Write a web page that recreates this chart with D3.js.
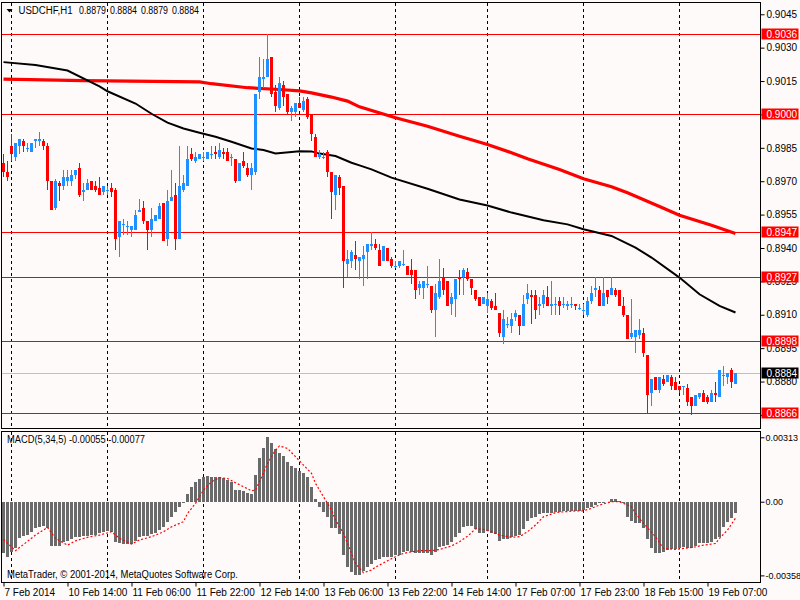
<!DOCTYPE html>
<html><head><meta charset="utf-8">
<script src="https://cdn.jsdelivr.net/npm/d3@7"></script>
<style>
html,body{margin:0;padding:0;background:#fffafa;}
svg{display:block;font-family:"Liberation Sans",Arial,sans-serif;font-size:10px;}
</style></head><body>
<svg id="c" width="800" height="600"></svg>
<script>
// ---------- DATA ----------
const symbolTitle = "USDCHF,H1";
const lastOHLC = ["0.8879","0.8884","0.8879","0.8884"];
const opens = [
0.8978,0.8974,0.8986,0.8981,0.8986,0.8988,0.8985,0.8983,0.8988,0.8988,
0.8988,0.8986,0.8970,0.8958,0.8969,0.8968,0.8970,0.8970,0.8973,0.8976,
0.8965,0.8966,0.8970,0.8968,0.8967,0.8965,0.8966,0.8967,0.8966,0.8945,
0.8951,0.8950,0.8948,0.8948,0.8956,0.8958,0.8952,0.8948,0.8952,0.8953,
0.8960,0.8944,0.8961,0.8964,0.8944,0.8966,0.8968,0.8982,0.8979,0.8980,
0.8981,0.8980,0.8982,0.8983,0.8981,0.8983,0.8983,0.8981,0.8980,0.8970,
0.8979,0.8976,0.8973,0.8974,0.9010,0.9016,0.9017,0.9026,0.9010,0.9003,
0.9013,0.9009,0.9001,0.9001,0.9005,0.9002,0.9007,0.9000,0.8990,0.8981,
0.8981,0.8983,0.8974,0.8964,0.8972,0.8968,0.8933,0.8934,0.8937,0.8934,
0.8935,0.8938,0.8941,0.8942,0.8939,0.8934,0.8940,0.8935,0.8932,0.8932,
0.8933,0.8932,0.8930,0.8930,0.8922,0.8922,0.8924,0.8923,0.8912,0.8918,
0.8927,0.8925,0.8915,0.8917,0.8927,0.8927,0.8929,0.8926,0.8921,0.8918,
0.8915,0.8914,0.8916,0.8914,0.8911,0.8900,0.8906,0.8905,0.8909,0.8910,
0.8905,0.8917,0.8919,0.8919,0.8914,0.8915,0.8918,0.8914,0.8915,0.8916,
0.8915,0.8914,0.8915,0.8915,0.8913,0.8912,0.8910,0.8916,0.8921,0.8921,
0.8914,0.8921,0.8919,0.8921,0.8921,0.8914,0.8910,0.8900,0.8900,0.8901,
0.8902,0.8892,0.8875,0.8882,0.8876,0.8881,0.8880,0.8882,0.8880,0.8878,
0.8878,0.8877,0.8873,0.8869,0.8873,0.8875,0.8873,0.8871,0.8875,0.8873,
0.8883,0.8882,0.8885,0.8879];
const highs = [
0.8982,0.8979,0.8991,0.8987,0.8989,0.8989,0.8987,0.8987,0.8989,0.8992,
0.8989,0.8987,0.8970,0.8971,0.8970,0.8975,0.8975,0.8975,0.8975,0.8978,
0.8969,0.8971,0.8970,0.8970,0.8972,0.8968,0.8968,0.8969,0.8967,0.8952,
0.8953,0.8952,0.8950,0.8957,0.8962,0.8961,0.8952,0.8958,0.8955,0.8960,
0.8960,0.8966,0.8975,0.8969,0.8986,0.8973,0.8986,0.8985,0.8983,0.8982,
0.8983,0.8983,0.8986,0.8986,0.8987,0.8985,0.8985,0.8982,0.8980,0.8978,
0.8983,0.8978,0.8978,0.9009,0.9026,0.9025,0.9036,0.9026,0.9013,0.9017,
0.9015,0.9009,0.9004,0.9005,0.9008,0.9008,0.9008,0.9000,0.8991,0.8984,
0.8983,0.8984,0.8974,0.8973,0.8973,0.8968,0.8939,0.8939,0.8943,0.8936,
0.8941,0.8942,0.8947,0.8944,0.8942,0.8941,0.8940,0.8936,0.8934,0.8934,
0.8939,0.8932,0.8935,0.8930,0.8925,0.8925,0.8932,0.8923,0.8924,0.8935,
0.8931,0.8925,0.8920,0.8926,0.8930,0.8931,0.8931,0.8926,0.8921,0.8918,
0.8918,0.8920,0.8917,0.8920,0.8911,0.8912,0.8909,0.8911,0.8912,0.8910,
0.8919,0.8924,0.8921,0.8921,0.8918,0.8921,0.8923,0.8925,0.8918,0.8918,
0.8918,0.8916,0.8918,0.8915,0.8915,0.8915,0.8918,0.8923,0.8927,0.8923,
0.8927,0.8921,0.8927,0.8922,0.8921,0.8918,0.8910,0.8917,0.8903,0.8908,
0.8904,0.8892,0.8881,0.8882,0.8882,0.8883,0.8883,0.8883,0.8882,0.8878,
0.8878,0.8879,0.8873,0.8874,0.8875,0.8876,0.8874,0.8876,0.8880,0.8885,
0.8887,0.8884,0.8886,0.8884];
const lows = [
0.8972,0.8970,0.8979,0.8979,0.8982,0.8983,0.8983,0.8983,0.8985,0.8986,
0.8984,0.8966,0.8957,0.8957,0.8961,0.8966,0.8968,0.8968,0.8971,0.8963,
0.8961,0.8966,0.8966,0.8965,0.8964,0.8964,0.8964,0.8963,0.8939,0.8936,
0.8946,0.8946,0.8945,0.8948,0.8956,0.8951,0.8939,0.8945,0.8952,0.8953,
0.8943,0.8941,0.8961,0.8939,0.8944,0.8965,0.8968,0.8979,0.8978,0.8980,
0.8979,0.8980,0.8980,0.8980,0.8980,0.8980,0.8979,0.8977,0.8969,0.8970,
0.8976,0.8972,0.8966,0.8973,0.9007,0.9012,0.9017,0.9008,0.9001,0.9002,
0.9004,0.9000,0.8997,0.8999,0.9003,0.9001,0.8998,0.8988,0.8981,0.8980,
0.8980,0.8972,0.8953,0.8957,0.8964,0.8922,0.8927,0.8931,0.8930,0.8926,
0.8923,0.8926,0.8939,0.8939,0.8932,0.8934,0.8934,0.8931,0.8931,0.8931,
0.8932,0.8928,0.8924,0.8917,0.8919,0.8917,0.8922,0.8911,0.8900,0.8917,
0.8919,0.8914,0.8910,0.8909,0.8919,0.8919,0.8925,0.8919,0.8916,0.8914,
0.8915,0.8911,0.8912,0.8912,0.8900,0.8897,0.8904,0.8902,0.8907,0.8901,
0.8905,0.8915,0.8906,0.8908,0.8910,0.8913,0.8914,0.8910,0.8910,0.8910,
0.8913,0.8912,0.8913,0.8912,0.8912,0.8910,0.8909,0.8915,0.8918,0.8914,
0.8914,0.8915,0.8919,0.8918,0.8914,0.8909,0.8899,0.8899,0.8893,0.8899,
0.8891,0.8866,0.8869,0.8876,0.8875,0.8878,0.8880,0.8876,0.8876,0.8875,
0.8874,0.8869,0.8865,0.8869,0.8872,0.8871,0.8870,0.8871,0.8871,0.8873,
0.8878,0.8879,0.8877,0.8879];
const closes = [
0.8974,0.8972,0.8982,0.8987,0.8989,0.8986,0.8985,0.8987,0.8989,0.8989,
0.8986,0.8970,0.8957,0.8970,0.8968,0.8972,0.8972,0.8973,0.8975,0.8964,
0.8966,0.8969,0.8966,0.8966,0.8964,0.8968,0.8966,0.8965,0.8944,0.8952,
0.8951,0.8950,0.8950,0.8955,0.8957,0.8952,0.8948,0.8953,0.8955,0.8959,
0.8943,0.8961,0.8963,0.8944,0.8968,0.8969,0.8980,0.8980,0.8981,0.8982,
0.8981,0.8983,0.8982,0.8982,0.8984,0.8982,0.8979,0.8981,0.8970,0.8978,
0.8977,0.8973,0.8976,0.9009,0.9017,0.9017,0.9025,0.9009,0.9004,0.9014,
0.9008,0.9001,0.9003,0.9005,0.9003,0.9006,0.8999,0.8991,0.8981,0.8982,
0.8981,0.8974,0.8965,0.8973,0.8967,0.8934,0.8935,0.8938,0.8935,0.8936,
0.8937,0.8942,0.8942,0.8940,0.8932,0.8941,0.8934,0.8932,0.8932,0.8934,
0.8933,0.8928,0.8928,0.8921,0.8924,0.8925,0.8924,0.8912,0.8920,0.8925,
0.8921,0.8914,0.8918,0.8926,0.8926,0.8930,0.8926,0.8922,0.8917,0.8914,
0.8918,0.8917,0.8913,0.8912,0.8902,0.8908,0.8906,0.8908,0.8911,0.8905,
0.8915,0.8920,0.8918,0.8912,0.8915,0.8919,0.8914,0.8915,0.8915,0.8914,
0.8915,0.8915,0.8915,0.8914,0.8913,0.8912,0.8916,0.8920,0.8922,0.8914,
0.8920,0.8918,0.8922,0.8919,0.8914,0.8910,0.8899,0.8902,0.8903,0.8903,
0.8893,0.8874,0.8881,0.8876,0.8882,0.8879,0.8883,0.8878,0.8876,0.8876,
0.8878,0.8871,0.8869,0.8874,0.8875,0.8871,0.8871,0.8875,0.8874,0.8885,
0.8883,0.8884,0.8880,0.8884];

// moving averages: [bar index, price]
const maRed = [[0,0.90159],[20,0.90152],[49,0.90146],[52,0.90138],[61,0.90120],[69,0.90112],[74,0.90106],[77,0.90097],[82,0.90078],[86,0.90060],[89,0.90034],[98,0.89985],[106,0.89947],[114,0.89902],[121,0.89865],[127,0.89828],[131,0.89801],[139,0.89753],[145,0.89711],[152,0.89675],[156,0.89648],[164,0.89586],[169,0.89547],[177,0.89502],[183,0.89465]];
const maBlack = [[0,0.90235],[8,0.90222],[16,0.90197],[24,0.90126],[26,0.90104],[33,0.90049],[37,0.90003],[41,0.89963],[45,0.89937],[49,0.89918],[53,0.89900],[57,0.89877],[62,0.89847],[65,0.89840],[68,0.89825],[70,0.89828],[74,0.89835],[77,0.89834],[79,0.89824],[83,0.89813],[87,0.89783],[89,0.89771],[92,0.89753],[97,0.89716],[106,0.89666],[114,0.89618],[121,0.89591],[127,0.89559],[135,0.89525],[141,0.89506],[145,0.89484],[152,0.89454],[158,0.89402],[162,0.89357],[169,0.89267],[174,0.89192],[179,0.89140],[183,0.89110]];

const levels = [0.9036,0.9000,0.8947,0.8927,0.8898,0.8866];
const currentPrice = 0.8884;
const priceTicks = [0.9045,0.9030,0.9015,0.9000,0.8985,0.8970,0.8955,0.8940,0.8925,0.8910,0.8895,0.8880,0.8865];
const hiddenTickLabels = [0.9000,0.8865]; // fully covered by level boxes in the reference

const macdHist = [
-0.00248,-0.00267,-0.00243,-0.00227,-0.00178,-0.00167,-0.00162,-0.00146,-0.00130,-0.00122,
-0.00118,-0.00130,-0.00215,-0.00215,-0.00215,-0.00194,-0.00190,-0.00183,-0.00173,-0.00170,
-0.00167,-0.00165,-0.00164,-0.00162,-0.00154,-0.00146,-0.00141,-0.00146,-0.00194,-0.00203,
-0.00207,-0.00207,-0.00207,-0.00190,-0.00170,-0.00167,-0.00165,-0.00159,-0.00151,-0.00138,
-0.00122,-0.00097,-0.00073,-0.00049,-0.00028,-0.00005,0.00037,0.00073,0.00097,0.00109,
0.00118,0.00125,0.00122,0.00118,0.00118,0.00113,0.00105,0.00097,0.00057,0.00057,
0.00053,0.00044,0.00037,0.00130,0.00211,0.00259,0.00313,0.00284,0.00254,0.00238,
0.00222,0.00194,0.00173,0.00162,0.00151,0.00141,0.00118,0.00070,0.00013,-0.00024,
-0.00049,-0.00076,-0.00130,-0.00130,-0.00157,-0.00259,-0.00316,-0.00340,-0.00358,-0.00356,
-0.00335,-0.00319,-0.00303,-0.00284,-0.00280,-0.00267,-0.00267,-0.00267,-0.00259,-0.00259,
-0.00243,-0.00238,-0.00243,-0.00248,-0.00248,-0.00248,-0.00248,-0.00259,-0.00243,-0.00222,
-0.00215,-0.00211,-0.00194,-0.00173,-0.00154,-0.00125,-0.00118,-0.00118,-0.00134,-0.00151,
-0.00151,-0.00141,-0.00151,-0.00157,-0.00190,-0.00183,-0.00183,-0.00173,-0.00167,-0.00162,
-0.00134,-0.00092,-0.00081,-0.00076,-0.00060,-0.00053,-0.00053,-0.00053,-0.00049,-0.00049,
-0.00044,-0.00044,-0.00044,-0.00044,-0.00044,-0.00041,-0.00032,-0.00028,-0.00016,-0.00008,
-0.00005,-0.00001,0.00011,0.00011,0.00005,-0.00005,-0.00073,-0.00092,-0.00102,-0.00105,
-0.00130,-0.00183,-0.00227,-0.00251,-0.00248,-0.00243,-0.00235,-0.00232,-0.00232,-0.00227,
-0.00222,-0.00227,-0.00227,-0.00215,-0.00203,-0.00199,-0.00199,-0.00194,-0.00183,-0.00170,
-0.00122,-0.00097,-0.00081,-0.00055];
const macdSignal = [[0,-0.00183],[3,-0.00238],[8,-0.00162],[11,-0.00125],[13,-0.00178],[16,-0.00211],[18,-0.00190],[21,-0.00173],[24,-0.00162],[27,-0.00146],[29,-0.00178],[32,-0.00206],[34,-0.00186],[37,-0.00170],[40,-0.00146],[42,-0.00122],[45,-0.00097],[46,-0.00057],[48,-0.00008],[50,0.00057],[52,0.00097],[54,0.00117],[56,0.00113],[58,0.00092],[60,0.00073],[62,0.00053],[63,0.00057],[64,0.00097],[66,0.00186],[68,0.00251],[69,0.00271],[71,0.00259],[73,0.00219],[75,0.00178],[77,0.00138],[78,0.00089],[80,0.00024],[82,-0.00040],[83,-0.00089],[85,-0.00154],[87,-0.00251],[88,-0.00300],[90,-0.00345],[92,-0.00332],[93,-0.00318],[96,-0.00287],[98,-0.00267],[100,-0.00251],[102,-0.00243],[104,-0.00238],[107,-0.00238],[109,-0.00232],[112,-0.00215],[114,-0.00194],[116,-0.00168],[118,-0.00132],[120,-0.00134],[122,-0.00146],[124,-0.00162],[127,-0.00173],[129,-0.00170],[131,-0.00146],[133,-0.00113],[135,-0.00073],[138,-0.00053],[140,-0.00049],[143,-0.00045],[145,-0.00044],[147,-0.00032],[149,-0.00016],[152,0.00000],[154,0.00000],[157,-0.00024],[158,-0.00057],[160,-0.00105],[163,-0.00170],[165,-0.00227],[168,-0.00232],[170,-0.00227],[173,-0.00219],[175,-0.00211],[178,-0.00203],[179,-0.00178],[181,-0.00138],[183,-0.00080]];
const macdTicks = [0.00313,0,-0.00358];
const macdTickLabels = ["0.00313","0.00","-0.00358"];
const macdTitle = "MACD(5,34,5) -0.00055 -0.00077";
const copyright = "MetaTrader, \u00A9 2001-2014, MetaQuotes Software Corp.";

const timeTickIdx = [0,16,32,48,64,80,96,112,128,144,160,176];
const timeTickLabels = ["7 Feb 2014","10 Feb 14:00","11 Feb 06:00","11 Feb 22:00","12 Feb 14:00","13 Feb 06:00","13 Feb 22:00","14 Feb 14:00","17 Feb 07:00","17 Feb 23:00","18 Feb 15:00","19 Feb 07:00"];
const dayStartIdx = [2,26,50,74,98,121,145,169];

// ---------- LAYOUT ----------
const BG = "#fffafa", BULL = "#1e90ff", BEAR = "#ff0000", FONT = "Liberation Sans, Arial, sans-serif";
const L = 1.5, R = 760.5, mainTop = 2.5, mainBot = 428.5, macdTop = 431.5, macdBot = 582.5;

const svg = d3.select("#c");
svg.append("rect").attr("width",800).attr("height",600).attr("fill",BG);

const x = d3.scaleLinear().domain([0,1]).range([3.5,7.5]);
const yP = d3.scaleLinear().domain([0.8866,0.9036]).range([412.7,34.3]);
const yM = d3.scaleLinear().domain([-0.00358,0.00313]).range([575.4,437.3]);

const defs = svg.append("defs");
defs.append("clipPath").attr("id","cpMain").append("rect")
  .attr("x",L).attr("y",mainTop).attr("width",R-L).attr("height",mainBot-mainTop);
defs.append("clipPath").attr("id","cpMacd").append("rect")
  .attr("x",L).attr("y",macdTop).attr("width",R-L).attr("height",macdBot-macdTop);

const gMain = svg.append("g").attr("clip-path","url(#cpMain)");
const gMacd = svg.append("g").attr("clip-path","url(#cpMacd)");

// vertical dashed grid (day separators)
[[gMain,mainTop,mainBot],[gMacd,macdTop,macdBot]].forEach(([g,t,b])=>{
  g.append("g").selectAll("line").data(dayStartIdx).join("line")
    .attr("x1",d=>Math.floor(x(d))+0.5).attr("x2",d=>Math.floor(x(d))+0.5)
    .attr("y1",t).attr("y2",b)
    .attr("stroke","#000").attr("stroke-width",1).attr("stroke-dasharray","3,3")
    .attr("shape-rendering","crispEdges");
});

// current price line
gMain.append("line").attr("x1",L).attr("x2",R)
  .attr("y1",Math.round(yP(currentPrice))+0.5).attr("y2",Math.round(yP(currentPrice))+0.5)
  .attr("stroke","#c0c0c0").attr("shape-rendering","crispEdges");

// horizontal level lines
gMain.append("g").selectAll("line").data(levels).join("line")
  .attr("x1",L).attr("x2",R)
  .attr("y1",d=>Math.round(yP(d))+0.5).attr("y2",d=>Math.round(yP(d))+0.5)
  .attr("stroke","#ff0000").attr("stroke-width",1).attr("shape-rendering","crispEdges");

// moving averages
const maLine = d3.line().x(d=>x(d[0])).y(d=>yP(d[1]));
gMain.append("path").datum(maRed).attr("d",maLine)
  .attr("fill","none").attr("stroke","#ff0000").attr("stroke-width",3.2);
gMain.append("path").datum(maBlack).attr("d",maLine)
  .attr("fill","none").attr("stroke","#000").attr("stroke-width",2);

// candles
const bars = d3.range(opens.length).map(i=>({i,o:opens[i],h:highs[i],l:lows[i],c:closes[i]}));
const gC = gMain.append("g").attr("shape-rendering","crispEdges");
const cg = gC.selectAll("g").data(bars).join("g");
cg.append("line")
  .attr("x1",d=>x(d.i)).attr("x2",d=>x(d.i))
  .attr("y1",d=>yP(d.h)).attr("y2",d=>yP(d.l))
  .attr("stroke",d=>d.c>=d.o?BULL:BEAR).attr("stroke-width",1);
cg.append("rect")
  .attr("x",d=>x(d.i)-1.5).attr("width",3)
  .attr("y",d=>Math.min(yP(d.o),yP(d.c)))
  .attr("height",d=>Math.max(1,Math.abs(yP(d.o)-yP(d.c))))
  .attr("fill",d=>d.c>=d.o?BULL:BEAR);

// MACD histogram
gMacd.append("g").attr("shape-rendering","crispEdges")
  .selectAll("rect").data(macdHist).join("rect")
  .attr("x",(d,i)=>x(i)-1.5).attr("width",3)
  .attr("y",d=>Math.min(yM(0),yM(d)))
  .attr("height",d=>Math.abs(yM(d)-yM(0)))
  .attr("fill","#6a6a6a");
gMacd.append("path").datum(macdSignal)
  .attr("d",d3.line().x(d=>x(d[0])).y(d=>yM(d[1])))
  .attr("fill","none").attr("stroke","#ff0000").attr("stroke-width",1.2)
  .attr("stroke-dasharray","2,2");

// panel borders
svg.append("rect").attr("x",L).attr("y",mainTop).attr("width",R-L).attr("height",mainBot-mainTop)
  .attr("fill","none").attr("stroke","#000").attr("shape-rendering","crispEdges");
svg.append("rect").attr("x",L).attr("y",macdTop).attr("width",R-L).attr("height",macdBot-macdTop)
  .attr("fill","none").attr("stroke","#000").attr("shape-rendering","crispEdges");

// right price axis
const axP = svg.append("g").attr("transform",`translate(${R},0)`)
  .call(d3.axisRight(yP).tickValues(priceTicks)
    .tickFormat(d=>hiddenTickLabels.includes(d)?"":d3.format(".4f")(d))
    .tickSize(4).tickPadding(2));
axP.select(".domain").remove();
axP.selectAll("text").attr("font-family",FONT).attr("font-size",10).attr("fill","#000");
axP.selectAll("line").attr("stroke","#000");

// MACD axis
const axM = svg.append("g").attr("transform",`translate(${R},0)`)
  .call(d3.axisRight(yM).tickValues(macdTicks).tickFormat((d,i)=>macdTickLabels[i]).tickSize(4).tickPadding(1));
axM.select(".domain").remove();
axM.selectAll("text").attr("font-family",FONT).attr("font-size",9).attr("fill","#000");
axM.selectAll("line").attr("stroke","#000");

// bottom time axis
const axT = svg.append("g").attr("transform",`translate(0,${macdBot})`)
  .call(d3.axisBottom(x).tickValues(timeTickIdx).tickFormat((d,i)=>timeTickLabels[i]).tickSize(4).tickPadding(2));
axT.select(".domain").remove();
axT.selectAll("text").attr("text-anchor","start").attr("dx","0.5")
  .attr("font-family",FONT).attr("font-size",10).attr("fill","#000");
axT.selectAll("line").attr("stroke","#000");

// level labels (red boxes) and current price (black box)
const lbl = svg.append("g");
const boxes = levels.map(v=>({v,bg:"#ff0000"})).concat([{v:currentPrice,bg:"#000"}]);
const bg = lbl.selectAll("g").data(boxes).join("g")
  .attr("transform",d=>`translate(${R+1},${Math.round(yP(d.v))})`);
bg.append("rect").attr("x",0).attr("y",-5.5).attr("width",37).attr("height",11).attr("fill",d=>d.bg);
bg.append("text").attr("x",5).attr("y",3.6).attr("fill","#fff").attr("font-size",10)
  .text(d=>d3.format(".4f")(d.v));

// header: symbol + last bar OHLC, laid out like the terminal
svg.append("path").attr("d","M6.5,9L12.5,9L9.5,12.5Z").attr("fill","#000");
svg.append("text").attr("x",18.5).attr("y",14).attr("fill","#000")
  .attr("textLength",54).attr("lengthAdjust","spacingAndGlyphs").text(symbolTitle);
svg.append("g").selectAll("text").data(lastOHLC).join("text")
  .attr("x",(d,i)=>79+i*31).attr("y",14).attr("fill","#000")
  .attr("textLength",27).attr("lengthAdjust","spacingAndGlyphs").text(d=>d);
svg.append("text").attr("x",7).attr("y",443).attr("fill","#000")
  .attr("textLength",138).attr("lengthAdjust","spacingAndGlyphs").text(macdTitle);
svg.append("text").attr("x",7).attr("y",578).attr("fill","#000")
  .attr("textLength",231).attr("lengthAdjust","spacingAndGlyphs").text(copyright);
</script>
</body></html>
